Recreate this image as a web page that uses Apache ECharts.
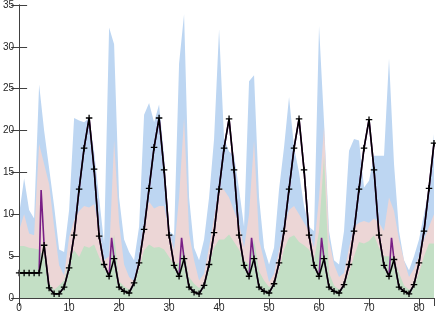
<!DOCTYPE html>
<html><head><meta charset="utf-8">
<script src="https://cdn.jsdelivr.net/npm/echarts@6/dist/echarts.min.js"></script>
<style>html,body{margin:0;padding:0;background:#fff}#c{width:436px;height:314px}</style>
</head><body><div id="c"></div>
<script>
// x positions are the index 0..83
const blueUpper = [10.0,14.3,10.5,9.5,25.5,20.0,15.5,11.0,5.8,5.5, 10.5,21.5,21.2,21.0,21.5,17.5,12.0,6.5,32.3,30.3, 12.0,7.0,5.5,4.5,8.5,21.9,23.3,21.0,23.1,17.0, 8.0,7.5,28.0,33.9,12.0,6.0,4.5,7.0,12.0,19.0, 32.1,19.0,17.5,17.0,13.0,8.5,25.9,26.6,12.0,6.0, 4.0,6.0,13.0,18.0,24.0,18.0,15.0,11.0,8.5,8.0, 32.5,21.0,8.0,4.5,4.0,8.0,17.6,19.0,18.8,13.2, 14.0,17.0,17.0,17.0,28.6,16.0,8.0,4.5,3.3,5.0, 7.0,10.0,13.0,19.6];
const pinkMid = [8.1,10.0,7.7,7.5,18.4,16.0,13.6,8.5,3.9,2.7, 7.3,9.3,10.4,11.0,10.8,11.2,8.5,4.5,5.0,18.8, 9.0,4.0,2.5,2.0,5.0,9.0,11.5,10.7,11.0,11.0, 8.0,5.7,12.0,21.5,7.7,4.5,2.1,2.9,6.1,9.6, 13.2,12.9,12.0,10.4,8.9,6.0,10.0,18.8,7.0,4.5, 1.9,2.9,5.7,8.5,10.5,11.0,10.0,9.0,8.0,6.0, 12.0,20.5,7.0,4.0,2.5,3.0,6.0,8.5,9.0,9.2, 9.0,9.5,9.0,8.0,12.0,10.4,7.0,4.5,2.5,3.5, 5.0,7.0,8.5,10.0];
const greenLow = [6.2,6.2,6.0,5.9,5.8,5.0,1.7,1.0,1.5,2.1, 4.5,5.7,4.9,6.2,6.0,6.4,4.9,3.5,2.9,7.6, 2.0,1.4,1.0,2.0,3.5,5.7,6.4,6.0,6.1,5.8, 4.9,4.0,4.2,5.8,2.5,1.7,1.2,1.7,4.2,6.0, 7.0,7.0,7.6,6.7,5.8,4.5,4.0,7.0,3.2,2.1, 1.3,1.7,3.3,5.8,7.2,7.5,6.7,6.3,5.8,4.5, 8.0,17.0,3.0,1.5,1.0,1.5,3.0,5.0,6.7,6.5, 6.8,7.5,6.0,5.0,5.0,4.8,3.0,1.5,1.0,1.5, 3.0,5.0,6.5,6.5];
const blackLine = [3,3,3,3,3,6.3,1.2,0.5,0.5,1.3, 3.6,7.5,13.0,17.9,21.5,15.4,7.4,4.0,2.6,4.7, 1.3,0.8,0.6,1.8,4.2,8.2,13.1,18.0,21.5,15.3, 7.5,3.9,2.6,4.7,1.3,0.7,0.5,1.5,4.0,7.8, 13.0,17.9,21.4,15.3,7.5,3.9,2.6,4.7,1.3,0.8, 0.6,1.7,4.2,8.0,13.0,17.9,21.4,15.3,7.5,3.9, 2.6,4.7,1.3,0.8,0.6,1.6,4.0,8.0,13.0,17.9, 21.3,15.3,7.5,3.9,2.6,4.6,1.3,0.8,0.5,1.6, 4.2,8.0,13.1,18.5];
const purpleSpikeX = [4.4,18.5,32.5,46.5,60.5,74.5];
const purpleSpikeY = [12.9,7.2,7.2,7.2,7.2,7.2];
const xTicks = [0,10,20,30,40,50,60,70,80];
const yTicks = [0,5,10,15,20,25,30,35];

const idx = a => a.map((v,i)=>[i,v]);
const purpleData = idx(blackLine).concat(purpleSpikeX.map((x,i)=>[x,purpleSpikeY[i]])).sort((a,b)=>a[0]-b[0]);

const axisColor = '#404040';
const labelColor = '#262626';
const font = '"Liberation Sans", Arial, Helvetica, sans-serif';
const plus = 'path://M4,0H6V4H10V6H6V10H4V6H0V4H4Z';

const chart = echarts.init(document.getElementById('c'), null, {renderer:'canvas'});
chart.setOption({
  animation:false,
  grid:{left:16,right:2,top:4,bottom:16},
  xAxis:[
    {type:'value',min:0,max:83,interval:10,position:'bottom',z:0,
     axisLine:{show:false},
     axisTick:{inside:true,length:8,lineStyle:{color:axisColor}},
     axisLabel:{color:labelColor,fontSize:10,fontFamily:font,margin:5,showMaxLabel:false,
       formatter:v=>xTicks.includes(v)?String(v):''},
     splitLine:{show:false}},
    {type:'value',min:0,max:83,interval:10,position:'top',z:0,
     axisLine:{show:true,lineStyle:{color:axisColor,width:1}},
     axisTick:{inside:true,length:8,lineStyle:{color:axisColor}},
     axisLabel:{show:false},splitLine:{show:false}},
    {type:'value',min:0,max:83,position:'bottom',z:10,
     axisLine:{show:true,onZero:false,lineStyle:{color:axisColor,width:1}},
     axisTick:{show:false},axisLabel:{show:false},splitLine:{show:false}}
  ],
  yAxis:[
    {type:'value',min:0,max:35,interval:5,position:'left',z:0,
     axisLine:{show:false},
     axisTick:{inside:true,length:8,lineStyle:{color:axisColor}},
     axisLabel:{color:labelColor,fontSize:10,fontFamily:font,margin:5,
       formatter:v=>yTicks.includes(v)?String(v):''},
     splitLine:{show:false}},
    {type:'value',min:0,max:35,interval:5,position:'right',z:0,
     axisLine:{show:true,lineStyle:{color:axisColor,width:1}},
     axisTick:{inside:true,length:8,lineStyle:{color:axisColor}},
     axisLabel:{show:false},splitLine:{show:false}},
    {type:'value',min:0,max:35,position:'left',z:10,
     axisLine:{show:true,onZero:false,lineStyle:{color:axisColor,width:1}},
     axisTick:{show:false},axisLabel:{show:false},splitLine:{show:false}}
  ],
  series:[
    {type:'line',data:idx(blueUpper),symbol:'none',lineStyle:{width:0},
     areaStyle:{color:'#bdd6f2',opacity:1},itemStyle:{color:'#bdd6f2'},silent:true},
    {type:'line',data:idx(pinkMid),symbol:'none',lineStyle:{width:0},
     areaStyle:{color:'#ecd6d6',opacity:1},itemStyle:{color:'#ecd6d6'},silent:true},
    {type:'line',data:idx(greenLow),symbol:'none',lineStyle:{width:0},
     areaStyle:{color:'#c3dfc5',opacity:1},itemStyle:{color:'#c3dfc5'},silent:true},
    {type:'line',data:purpleData,symbol:'none',lineStyle:{color:'#7a1f86',width:1.6},itemStyle:{color:'#7a1f86'}},
    {type:'line',data:idx(blackLine),symbol:plus,symbolSize:6.5,showAllSymbol:true,
     lineStyle:{color:'#000',width:1.6},itemStyle:{color:'#000'}}
  ]
});
</script></body></html>
